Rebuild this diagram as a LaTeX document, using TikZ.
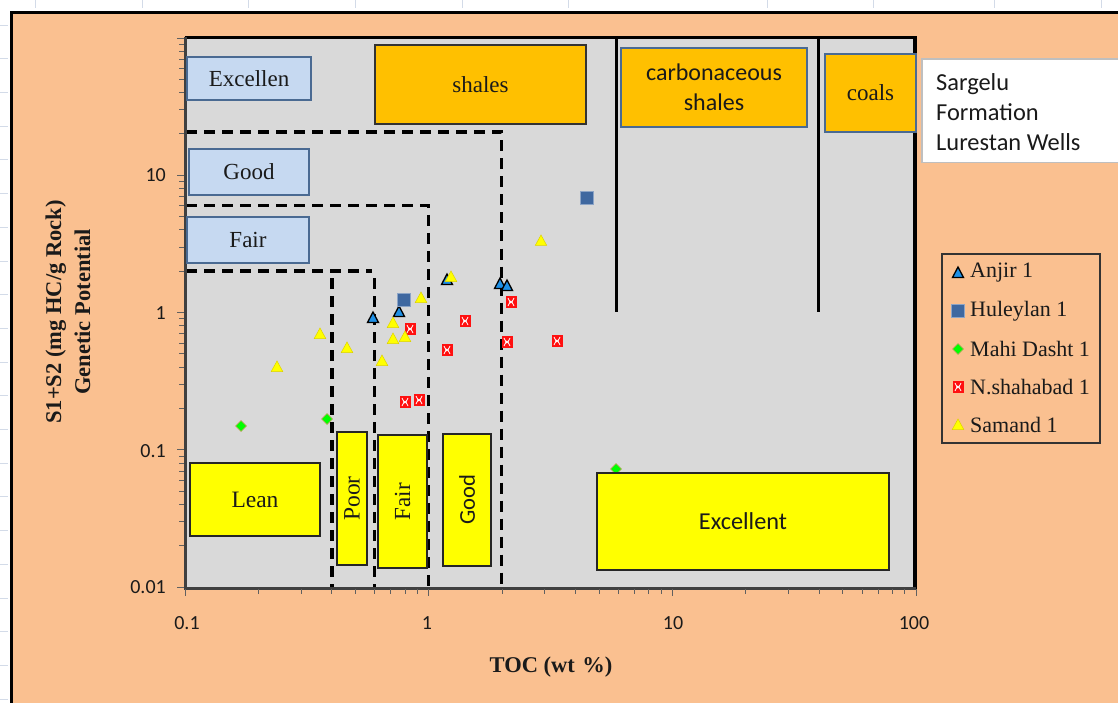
\documentclass[tikz,border=0pt]{standalone}
\usepackage{fontspec}
\setmainfont{Liberation Serif}
\newfontfamily\calib{Carlito}
\definecolor{bgorange}{HTML}{FAC090}
\definecolor{plotgray}{HTML}{D9D9D9}
\definecolor{lblue}{HTML}{C6D9F1}
\definecolor{bluebord}{HTML}{4A6A92}
\definecolor{amber}{HTML}{FFC000}
\definecolor{yel}{HTML}{FFFF00}
\definecolor{gridc}{HTML}{D3DBE8}
\definecolor{anjirc}{HTML}{1E90E6}
\definecolor{hulc}{HTML}{3F68A0}
\definecolor{mahic}{HTML}{00FF00}
\definecolor{shahc}{HTML}{FF1010}
\definecolor{samc}{HTML}{FFFF00}
\definecolor{axisc}{HTML}{404040}
\definecolor{tickc}{HTML}{606060}
\definecolor{txt}{HTML}{1A1A1A}
\tikzset{
  bluebox/.style={draw=bluebord, line width=1.4, fill=lblue, inner sep=0, text=txt, font=\fontsize{23}{27}\selectfont},
  ambbox/.style={draw=#1, line width=1.4, fill=amber, inner sep=0, text=txt},
  yelbox/.style={draw=black!85, line width=1.4, fill=yel, inner sep=0, text=txt},
  dashln/.style={line width=3.2, dash pattern=on 11pt off 7pt, black},
  ticklab/.style={inner sep=0, text=txt, font=\calib\fontsize{20}{24}\selectfont},
  legtext/.style={inner sep=0, anchor=west, text=txt, font=\fontsize{22}{26}\selectfont},
  anjir/.pic={\draw[black, line width=1.3, fill=anjirc, line join=miter] (0,-6) -- (5.5,4.5) -- (-5.5,4.5) -- cycle;},
  hul/.pic={\fill[hulc] (-6.5,-6.5) rectangle (6.5,6.5); \draw[hulc!60!white, line width=0.5] (-6.5,-6.5) rectangle (6.5,6.5);},
  mahi/.pic={\draw[fill=mahic, draw=orange!70!black!60, line width=0.6] (0,-5.5) -- (5.5,0) -- (0,5.5) -- (-5.5,0) -- cycle;},
  shah/.pic={\fill[shahc] (-5.5,-6) rectangle (5.5,6);
    \draw[white, line width=0.7] (-3,-4) -- (-1,0) -- (-3,4) (3,-4) -- (1,0) -- (3,4) (-1.5,-1.5) -- (1.5,1.5) (1.5,-1.5) -- (-1.5,1.5);},
  sam/.pic={\draw[fill=samc, draw=yellow!70!olive, line width=0.5] (0,-6) -- (5.8,4.5) -- (-5.8,4.5) -- cycle;}
}
\begin{document}
\begin{tikzpicture}[x=1pt,y=-1pt]
\useasboundingbox (0,0) rectangle (1118,703);
\fill[white] (0,0) rectangle (1118,703);
% faint spreadsheet grid marks
\foreach \gy in {25,58.7,92.4,126.1,159.8,193.5,227.2,260.9,294.6,328.3,362,395.7,429.4,463.1,496.8,530.5,564.2,597.9,631.6,665.3,699}
  \draw[gridc, line width=0.8] (0,\gy) -- (8,\gy);
\foreach \gx in {35,142,248,355,462,568,767,873,994,1101}
  \draw[gridc, line width=0.8] (\gx,0) -- (\gx,8);
% chart area
\fill[bgorange] (12,13) rectangle (1118,703);
\draw[black, line width=3] (11.5,703) -- (11.5,13) -- (1118,13);
% plot area
\fill[plotgray] (185,37) rectangle (916,587);
% dashed classification lines
\draw[dashln] (186,132) -- (501.5,132) -- (501.5,587);
\draw[dashln] (186,205.5) -- (428.5,205.5) -- (428.5,587);
\draw[dashln] (186,271) -- (372,271);
\draw[dashln] (332,278) -- (332,587);
\draw[dashln] (374.5,278) -- (374.5,587);
% solid lines
\draw[black, line width=3] (616,38) -- (616,312);
\draw[black, line width=3] (818,38) -- (818,312);
% data
\foreach \px/\py in {373/318,399/312,447/280,500/284,507/286} \pic at (\px,\py) {anjir};
\foreach \px/\py in {404/300,587/198} \pic at (\px,\py) {hul};
\foreach \px/\py in {241/426,327/419,616/469} \pic at (\px,\py) {mahi};
\foreach \px/\py in {410/329,465/321,447/350,511/302,507/342,557/341,405/402,419/400} \pic at (\px,\py) {shah};
\foreach \px/\py in {320/334,277/367,347/348,382/361,393/339,393/323,405/337,421/298,451/277,541/241} \pic at (\px,\py) {sam};
% axes and border
\draw[black, line width=3.5] (185,37.5) -- (915,37.5) -- (915,589);
\draw[axisc, line width=3] (185,37) -- (185,588.5) -- (916,588.5);
% ticks
\foreach \k in {0,1,2,3} {
  \foreach \m in {2,...,9} {
    \pgfmathsetmacro\yy{587-137.25*(\k+log10(\m))}
    \draw[tickc, line width=0.9] (184,\yy) -- (179,\yy);
    \pgfmathsetmacro\xx{185+243.67*(\k+log10(\m))}
    \ifnum\k<3 \draw[tickc, line width=0.9] (\xx,589) -- (\xx,594);\fi
  }
}
\foreach \k in {0,...,4} {
  \pgfmathsetmacro\yy{587-137.25*\k}
  \draw[tickc, line width=0.9] (184,\yy) -- (177,\yy);
}
\foreach \k in {0,...,3} {
  \pgfmathsetmacro\xx{185+243.67*\k}
  \draw[tickc, line width=0.9] (\xx,589) -- (\xx,596);
}
% upper left potential boxes
\node[bluebox, minimum width=124, minimum height=43] (exc) at (249,78.5) {Excellen};
\node[bluebox, minimum width=120, minimum height=46] (gd) at (249,172) {Good};
\node[bluebox, minimum width=122, minimum height=46] (fr) at (248,240) {Fair};
% kerogen type boxes
\node[ambbox=black!80, minimum width=211, minimum height=79, font=\fontsize{23}{27}\selectfont] (sh) at (480.5,84.5) {shales};
\node[ambbox=bluebord, minimum width=186, minimum height=79, align=center, font=\calib\fontsize{24}{30}\selectfont] (cs) at (714,87.5) {carbonaceous\\shales};
\node[ambbox=bluebord, minimum width=91, minimum height=78, font=\fontsize{23}{27}\selectfont] (cl) at (870.5,93) {coals};
% title box
\node[fill=white, inner sep=0, minimum width=196, minimum height=103, anchor=north west] (sarg) at (922,59) {};
\draw[black!25, line width=1.2] (sarg.north east) -- (sarg.north west) -- (sarg.south west) -- (sarg.south east);
\node[inner sep=0, anchor=north west, align=left, text=txt, font=\calib\fontsize{24.4}{30}\selectfont] (sargt) at (936,73) {Sargelu\\Formation\\Lurestan Wells};
% lower TOC boxes
\node[yelbox, minimum width=130, minimum height=73, font=\fontsize{23.5}{27}\selectfont] (lean) at (255,499.5) {Lean};
\node[yelbox, rotate=90, minimum width=133, minimum height=30, font=\fontsize{23.5}{27}\selectfont] (poor) at (352,498.5) {Poor};
\node[yelbox, rotate=90, minimum width=133, minimum height=49, font=\fontsize{23}{27}\selectfont] (fair2) at (402.5,501.5) {Fair};
\node[yelbox, rotate=90, minimum width=132, minimum height=48, font=\calib\fontsize{22.6}{27}\selectfont] (good2) at (467,500) {Good};
\node[yelbox, minimum width=292, minimum height=97, font=\calib\fontsize{24.3}{28}\selectfont] (excl) at (743,521.5) {Excellent};
% tick labels
\node[ticklab] (x01) at (187,623) {0.1};
\node[ticklab] (x1) at (427,623) {1};
\node[ticklab] (x10) at (673,623) {10};
\node[ticklab] (x100) at (914,623) {100};
\node[ticklab, anchor=east] (y10) at (166,175) {10};
\node[ticklab, anchor=east] (y1) at (166,313) {1};
\node[ticklab, anchor=east] (y01) at (166,451) {0.1};
\node[ticklab, anchor=east] (y001) at (166,587) {0.01};
% axis titles
\node[inner sep=0, text=txt, font=\bfseries\fontsize{22.5}{27}\selectfont] (xtitle) at (551,667) {TOC (wt\,\,\%)};
\node[inner sep=0, rotate=90, align=center, text=txt, font=\bfseries\fontsize{22.5}{29}\selectfont] (ytitle) at (68,312) {S1+S2 (mg HC/g Rock)\\Genetic Potential};
% legend
\node[draw=black!80, line width=1.2, inner sep=0, minimum width=158, minimum height=189] (leg) at (1021,348.5) {};
\pic at (958,273) {anjir};
\pic at (958,311) {hul};
\pic at (958,349) {mahi};
\pic at (958,387) {shah};
\pic at (958,425) {sam};
\node[legtext] (l1) at (970,273) {Anjir 1};
\node[legtext] (l2) at (970,311) {Huleylan 1};
\node[legtext] (l3) at (970,349) {Mahi Dasht 1};
\node[legtext] (l4) at (970,387) {N.shahabad 1};
\node[legtext] (l5) at (970,425) {Samand 1};
\end{tikzpicture}
\end{document}
